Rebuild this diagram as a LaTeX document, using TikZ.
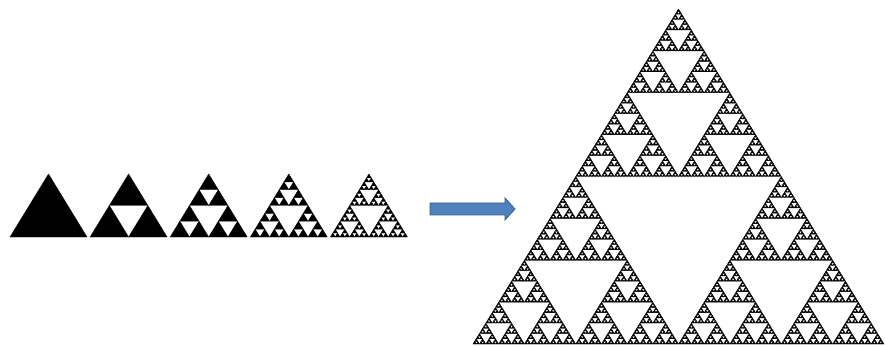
\documentclass[tikz,border=0pt]{standalone}
\definecolor{arrowfill}{HTML}{4F81BD}
\definecolor{arrowline}{HTML}{385D8A}
\tikzset{sierfill/.style={fill=black,draw=black,line width=0.35pt,line join=round},
  blockarrow/.style={fill=arrowfill,draw=arrowline,line width=0.8pt,line join=miter}}
\newcommand\sierp[7]{%
  \ifnum#1=0\relax
    \filldraw[sierfill] (#2,#3) -- (#4,#5) -- (#6,#7) -- cycle;%
  \else
    \begingroup
    \pgfmathsetmacro\sA{(#2+#4)/2}\pgfmathsetmacro\sB{(#3+#5)/2}%
    \pgfmathsetmacro\sC{(#2+#6)/2}\pgfmathsetmacro\sD{(#3+#7)/2}%
    \pgfmathsetmacro\sE{(#4+#6)/2}\pgfmathsetmacro\sF{(#5+#7)/2}%
    \edef\sN{\the\numexpr#1-1\relax}%
    \edef\sX{\noexpand\sierp{\sN}{#2}{#3}{\sA}{\sB}{\sC}{\sD}%
      \noexpand\sierp{\sN}{\sA}{\sB}{#4}{#5}{\sE}{\sF}%
      \noexpand\sierp{\sN}{\sC}{\sD}{\sE}{\sF}{#6}{#7}}%
    \sX
    \endgroup
  \fi}
\begin{document}
\begin{tikzpicture}[x=1pt,y=-1pt]
\useasboundingbox (0,0) rectangle (885,347);
% small triangles, depths 0..4
\sierp{0}{48.5}{174}{10}{237}{87}{237}
\sierp{1}{128.6}{174}{90.1}{237}{167.1}{237}
\sierp{2}{208.7}{174}{170.2}{237}{247.2}{237}
\sierp{3}{288.8}{174}{250.3}{237}{327.3}{237}
\sierp{4}{368.9}{174}{330.4}{237}{407.4}{237}
% arrow
\draw[blockarrow] (430,203) -- (505,203) -- (505,198) -- (515,209) -- (505,220) -- (505,215) -- (430,215) -- cycle;
% large triangle
\sierp{7}{678.5}{9}{473}{344}{884}{344}
\end{tikzpicture}
\end{document}
